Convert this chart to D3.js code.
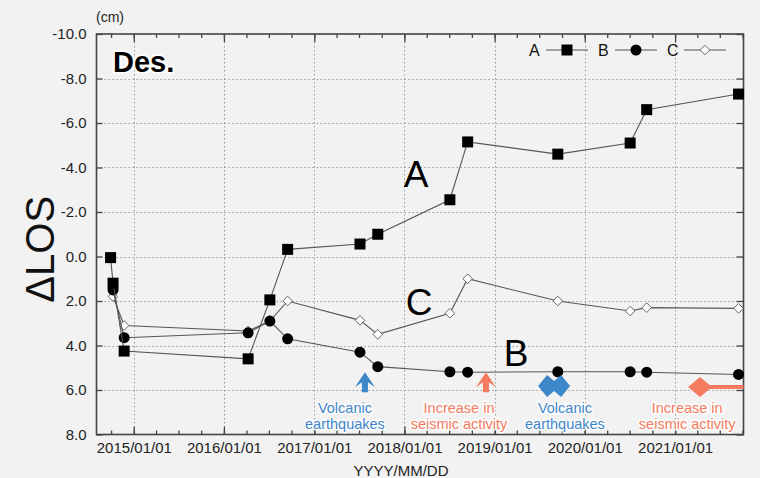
<!DOCTYPE html>
<html>
<head>
  <meta charset="utf-8">
  <title>Des. ΔLOS time series</title>
  <script src="https://d3js.org/d3.v7.min.js"></script>
  <style>
    body { margin: 0; background: #f2f2f2; }
    svg { display: block; font-family: "Liberation Sans", Arial, sans-serif; }
  </style>
</head>
<body>
  <script>

// acquisition dates (shared by all three series)
const dates = ["2014-09-29", "2014-10-09", "2014-11-23", "2016-04-08", "2016-07-05",
  "2016-09-15", "2017-07-05", "2017-09-15", "2018-07-04", "2018-09-14",
  "2019-09-14", "2020-07-03", "2020-09-08", "2021-09-15"];

// ΔLOS in cm (null = no value on that date)
const valuesA = [0.05, 1.2, 4.25, 4.6, 1.95, -0.32, -0.56, -1.0, -2.55, -5.15, -4.6, -5.1, -6.6, -7.3];
const valuesB = [null, 1.5, 3.65, 3.43, 2.9, 3.7, 4.3, 4.95, 5.18, 5.2, 5.18, 5.18, 5.2, 5.3];
const valuesC = [null, 1.8, 3.1, 3.35, 2.9, 2.0, 2.87, 3.5, 2.55, 1.0, 2.0, 2.45, 2.3, 2.33];

const seriesNames = ["A", "B", "C"];
const seriesSymbols = ["square", "circle", "diamond"];

// big series labels inside the plot (date, value of baseline)
const labelDates = ["2017-12-29", "2019-02-07", "2018-01-06"];
const labelValues = [-3.12, 4.92, 2.63];

const yTicks = [-10, -8, -6, -4, -2, 0, 2, 4, 6, 8];
const yTickLabels = ["-10.0", "-8.0", "-6.0", "-4.0", "-2.0", "0.0", "2.0", "4.0", "6.0", "8.0"];

// event annotations
const eventKinds = ["arrow", "arrow", "double", "start"];
const eventDates = ["2017-07-25", "2018-11-27", "2019-08-30", "2021-04-12"];
const eventColors = ["#3d86c8", "#f47a60", "#3d86c8", "#f47a60"];
const eventTextDates = ["2017-05-05", "2018-08-10", "2019-10-13", "2021-02-19"];
const eventLines1 = ["Volcanic", "Increase in", "Volcanic", "Increase in"];
const eventLines2 = ["earthquakes", "seismic activity", "earthquakes", "seismic activity"];

const W = 760, H = 478;
const plotL = 96.5, plotR = 743.5, plotT = 34, plotB = 434.5;
const parse = d3.utcParse("%Y-%m-%d");

const svg = d3.select("body").append("svg")
  .attr("width", W).attr("height", H);

svg.append("rect").attr("width", W).attr("height", H).attr("fill", "#f2f2f2");

const x = d3.scaleUtc()
  .domain([parse("2014-08-03"), parse("2021-10-05")])
  .range([plotL, plotR]);
const y = d3.scaleLinear().domain([-10, 8]).range([plotT, plotB]);

const years = x.ticks(d3.utcYear.every(1));
const quarters = x.ticks(d3.utcMonth.every(3));

// grid
const grid = svg.append("g")
  .attr("stroke", "#9a9a9a").attr("stroke-width", 1).attr("stroke-dasharray", "1.5,2.5");
grid.selectAll(".gy").data(yTicks.slice(1, -1)).enter().append("line")
  .attr("x1", plotL).attr("x2", plotR)
  .attr("y1", d => Math.round(y(d)) + 0.5).attr("y2", d => Math.round(y(d)) + 0.5);
grid.selectAll(".gx").data(years).enter().append("line")
  .attr("y1", plotT).attr("y2", plotB)
  .attr("x1", d => Math.round(x(d)) + 0.5).attr("x2", d => Math.round(x(d)) + 0.5);

// axes
const axisColor = "#444";
function styleAxis(g) {
  g.select(".domain").remove();
  g.selectAll(".tick line").attr("stroke", axisColor).attr("stroke-width", 1.3);
  g.selectAll(".tick text").attr("fill", "#222").style("font-size", "15px");
}

svg.append("g").attr("transform", `translate(${plotL},0)`)
  .call(d3.axisLeft(y).tickValues(yTicks).tickSize(-6).tickPadding(10)
    .tickFormat((d, i) => yTickLabels[i]))
  .call(styleAxis);
svg.append("g").attr("transform", `translate(${plotR},0)`)
  .call(d3.axisRight(y).tickValues(yTicks).tickSize(-7).tickFormat(""))
  .call(styleAxis);

svg.append("g").attr("transform", `translate(0,${plotB})`)
  .call(d3.axisBottom(x).tickValues(quarters).tickSize(-4).tickFormat(""))
  .call(styleAxis);
svg.append("g").attr("transform", `translate(0,${plotB})`)
  .call(d3.axisBottom(x).tickValues(years).tickSize(-8).tickPadding(8)
    .tickFormat(d3.utcFormat("%Y/%m/%d")))
  .call(styleAxis);
svg.append("g").attr("transform", `translate(0,${plotT})`)
  .call(d3.axisTop(x).tickValues(quarters).tickSize(-4).tickFormat(""))
  .call(styleAxis);
svg.append("g").attr("transform", `translate(0,${plotT})`)
  .call(d3.axisTop(x).tickValues(years).tickSize(-8).tickFormat(""))
  .call(styleAxis);

// frame
svg.append("rect")
  .attr("x", plotL).attr("y", plotT).attr("width", plotR - plotL).attr("height", plotB - plotT)
  .attr("fill", "none").attr("stroke", axisColor).attr("stroke-width", 1.6);

// axis titles
svg.append("text").attr("x", 96).attr("y", 22).attr("fill", "#222")
  .style("font-size", "14px").text("(cm)");
svg.append("text").attr("x", 401).attr("y", 476).attr("text-anchor", "middle")
  .attr("fill", "#222").style("font-size", "15px").text("YYYY/MM/DD");
svg.append("text")
  .attr("transform", `translate(54,${(plotT + plotB) / 2 + 15}) rotate(-90)`)
  .attr("text-anchor", "middle").attr("fill", "#111")
  .style("font-size", "40px").text("ΔLOS");

// halo helper
function halo(sel, w) {
  return sel.attr("stroke", "#fff").attr("stroke-width", w).attr("stroke-linejoin", "round")
    .attr("stroke-opacity", 0.9).style("paint-order", "stroke");
}

svg.append("text").attr("x", 113).attr("y", 72).attr("fill", "#000")
  .style("font-size", "29px").style("font-weight", "bold").text("Des.")
  .call(halo, 4);

// markers
function drawSymbol(g, kind, cx, cy) {
  if (kind === "square") {
    g.append("rect").attr("x", cx - 5.5).attr("y", cy - 5.5).attr("width", 11).attr("height", 11)
      .attr("fill", "#000");
  } else if (kind === "circle") {
    g.append("circle").attr("cx", cx).attr("cy", cy).attr("r", 5.5).attr("fill", "#000");
  } else {
    g.append("path")
      .attr("d", `M${cx},${cy - 4.8}L${cx + 4.8},${cy}L${cx},${cy + 4.8}L${cx - 4.8},${cy}Z`)
      .attr("fill", "#fff").attr("stroke", "#666").attr("stroke-width", 1);
  }
}

const allValues = [valuesA, valuesB, valuesC];
const line = d3.line().x(d => x(d.date)).y(d => y(d.v));

// draw C first, then B, then A (A on top)
[2, 1, 0].forEach(si => {
  const pts = dates.map((d, i) => ({ date: parse(d), v: allValues[si][i] }))
    .filter(p => p.v !== null);
  const g = svg.append("g");
  g.append("path").datum(pts).attr("d", line)
    .attr("fill", "none").attr("stroke", "#555").attr("stroke-width", 1.1);
  pts.forEach(p => drawSymbol(g, seriesSymbols[si], x(p.date), y(p.v)));
});

// series labels
seriesNames.forEach((n, i) => {
  svg.append("text").attr("x", x(parse(labelDates[i]))).attr("y", y(labelValues[i]))
    .attr("fill", "#000").style("font-size", "37px").text(n);
});

// legend
const legend = svg.append("g");
seriesNames.forEach((n, i) => {
  const lx = 529 + i * 69, ly = 50;
  legend.append("text").attr("x", lx).attr("y", ly + 6).attr("fill", "#111")
    .style("font-size", "16px").text(n);
  legend.append("line").attr("x1", lx + 17).attr("x2", lx + 59).attr("y1", ly).attr("y2", ly)
    .attr("stroke", "#555").attr("stroke-width", 1.1);
  drawSymbol(legend, seriesSymbols[i], lx + 38, ly);
});

// event annotations
const ev = svg.append("g");
eventKinds.forEach((k, i) => {
  const ex = x(parse(eventDates[i])), col = eventColors[i];
  if (k === "arrow") {
    const ty = y(5.2);
    ev.append("path")
      .attr("d", `M${ex},${ty}L${ex + 10},${ty + 15}L${ex + 3},${ty + 10}L${ex + 3},${ty + 20}` +
        `L${ex - 3},${ty + 20}L${ex - 3},${ty + 10}L${ex - 10},${ty + 15}Z`)
      .attr("fill", col);
  } else if (k === "double") {
    const cy = y(5.82);
    ev.append("path")
      .attr("d", `M${ex - 16},${cy}L${ex - 7},${cy - 11}L${ex},${cy - 5}L${ex + 7},${cy - 11}` +
        `L${ex + 16},${cy}L${ex + 7},${cy + 11}L${ex},${cy + 5}L${ex - 7},${cy + 11}Z`)
      .attr("fill", col);
  } else {
    const cy = y(5.87);
    ev.append("line").attr("x1", ex).attr("x2", plotR).attr("y1", cy).attr("y2", cy)
      .attr("stroke", col).attr("stroke-width", 4);
    ev.append("path")
      .attr("d", `M${ex},${cy - 10}L${ex + 12},${cy}L${ex},${cy + 10}L${ex - 12},${cy}Z`)
      .attr("fill", col);
  }
  const tx = x(parse(eventTextDates[i]));
  [eventLines1[i], eventLines2[i]].forEach((t, j) => {
    ev.append("text").attr("x", tx).attr("y", 413 + j * 16).attr("text-anchor", "middle")
      .attr("fill", col).style("font-size", "14.5px").text(t)
      .call(halo, 3);
  });
});

  </script>
</body>
</html>
